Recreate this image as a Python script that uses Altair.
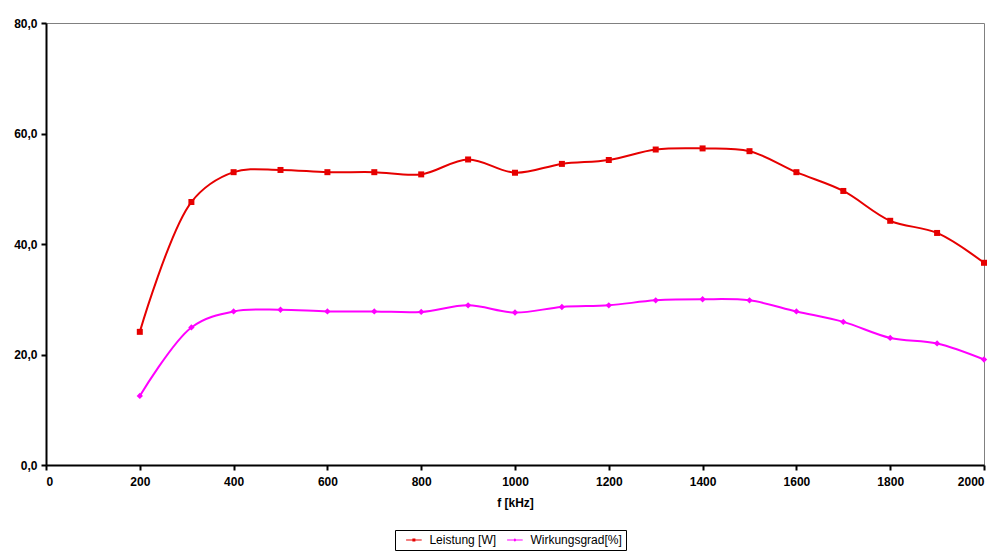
import altair as alt
import pandas as pd

freq = [200, 310, 400, 500, 600, 700, 800, 900, 1000, 1100, 1200, 1300, 1400, 1500, 1600, 1700, 1800, 1900, 2000]
leistung = [24.1, 47.6, 53.0, 53.4, 53.0, 53.0, 52.6, 55.3, 52.9, 54.5, 55.2, 57.1, 57.3, 56.8, 53.0, 49.6, 44.2, 42.0, 36.6]
wirkungsgrad = [12.5, 24.9, 27.8, 28.1, 27.8, 27.8, 27.7, 28.9, 27.6, 28.6, 28.9, 29.8, 30.0, 29.8, 27.8, 25.9, 23.0, 22.0, 19.1]
series_names = ["Leistung [W]", "Wirkungsgrad[%]"]
colors = ["#E60000", "#FF00FF"]
x_ticks = [0, 200, 400, 600, 800, 1000, 1200, 1400, 1600, 1800, 2000]
y_ticks = [0, 20, 40, 60, 80]

rows = []
for f, l, w in zip(freq, leistung, wirkungsgrad):
    rows.append({"f": f, "serie": series_names[0], "v": l})
    rows.append({"f": f, "serie": series_names[1], "v": w})
df = pd.DataFrame(rows)

FONT = "Liberation Sans"

x = alt.X("f:Q", scale=alt.Scale(domain=[0, 2000], nice=False),
          axis=alt.Axis(values=x_ticks, title="f [kHz]", format="d",
                        labelPadding=6, titlePadding=10, grid=False))
y = alt.Y("v:Q", scale=alt.Scale(domain=[0, 80], nice=False),
          axis=alt.Axis(values=y_ticks, title=None, grid=False, labelPadding=4,
                        labelExpr="replace(format(datum.value, '.1f'), '.', ',')"))

path_sq = "M-2.6,-0.17H2.6V0.17H-2.6Z M-0.5,-0.5H0.5V0.5H-0.5Z"
path_dm = "M-2.6,-0.17H2.6V0.17H-2.6Z M0,-0.55L0.55,0L0,0.55L-0.55,0Z"

leg = alt.Legend(orient="none", legendX=349, legendY=507, direction="horizontal", title=None,
                 strokeColor="black", fillColor="white", padding=4,
                 symbolSize=36, symbolOffset=8.9, symbolStrokeWidth=0, symbolOpacity=1,
                 labelOffset=9.5, columnPadding=3, labelFont=FONT, labelFontSize=12,
                 labelColor="black")

color = alt.Color("serie:N", scale=alt.Scale(domain=series_names, range=colors), legend=leg)
shape = alt.Shape("serie:N", scale=alt.Scale(domain=series_names, range=[path_sq, path_dm]), legend=leg)

legend_layer = alt.Chart(df).mark_point(filled=True, size=0.01, opacity=1).encode(
    x=x, y=y, color=color, shape=shape,
)
lines = alt.Chart(df).mark_line(interpolate="catmull-rom", strokeWidth=2).encode(x=x, y=y, color=color)
squares = alt.Chart(df).transform_filter(alt.datum.serie == series_names[0]).mark_point(
    shape="square", filled=True, size=36, opacity=1).encode(x=x, y=y, color=color)
diamonds = alt.Chart(df).transform_filter(alt.datum.serie == series_names[1]).mark_point(
    shape="diamond", filled=True, size=40, opacity=1).encode(x=x, y=y, color=color)

chart = alt.layer(legend_layer, lines, squares, diamonds).properties(
    width=938, height=442,
    background="white",
    autosize=alt.AutoSizeParams(type="none"),
    padding={"left": 38, "top": 15, "right": 15, "bottom": 100},
).configure_view(stroke="#808080", strokeWidth=1).configure_axis(
    domainColor="black", domainWidth=2, tickColor="black", tickWidth=2, tickSize=5,
    labelFont=FONT, labelFontSize=12, labelFontWeight="bold", labelColor="black",
    titleFont=FONT, titleFontSize=12, titleFontWeight="bold", titleColor="black",
)

chart.save("out.html", embed_options={"renderer": "svg", "actions": False})
